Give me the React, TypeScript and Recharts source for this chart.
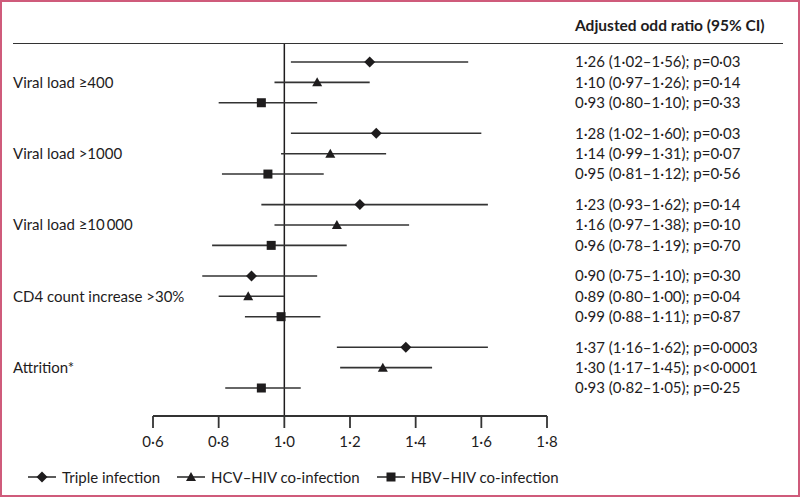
import React from 'react';
import { ScatterChart, Scatter, XAxis, YAxis, ReferenceLine, ErrorBar, Legend } from 'recharts';

const groups = ['Viral load ≥400', 'Viral load >1000', 'Viral load ≥10\u2009000', 'CD4 count increase >30%', 'Attrition*'];

const tripleOR = [1.26, 1.28, 1.23, 0.9, 1.37];
const tripleLow = [1.02, 1.02, 0.93, 0.75, 1.16];
const tripleHigh = [1.56, 1.6, 1.62, 1.1, 1.62];
const tripleP = ['p=0·03', 'p=0·03', 'p=0·14', 'p=0·30', 'p=0·0003'];

const hcvOR = [1.1, 1.14, 1.16, 0.89, 1.3];
const hcvLow = [0.97, 0.99, 0.97, 0.8, 1.17];
const hcvHigh = [1.26, 1.31, 1.38, 1.0, 1.45];
const hcvP = ['p=0·14', 'p=0·07', 'p=0·10', 'p=0·04', 'p<0·0001'];

const hbvOR = [0.93, 0.95, 0.96, 0.99, 0.93];
const hbvLow = [0.8, 0.81, 0.78, 0.88, 0.82];
const hbvHigh = [1.1, 1.12, 1.19, 1.11, 1.05];
const hbvP = ['p=0·33', 'p=0·56', 'p=0·70', 'p=0·87', 'p=0·25'];

const xTicks = [0.6, 0.8, 1.0, 1.2, 1.4, 1.6, 1.8];

const INK = '#1e1c1d';
const LINE = '#333';
const FONT = 'Lato, sans-serif';

const series = [
  { name: 'Triple infection', kind: 'diamond', or: tripleOR, low: tripleLow, high: tripleHigh, p: tripleP },
  { name: 'HCV–HIV co-infection', kind: 'triangle', or: hcvOR, low: hcvLow, high: hcvHigh, p: hcvP },
  { name: 'HBV–HIV co-infection', kind: 'square', or: hbvOR, low: hbvLow, high: hbvHigh, p: hbvP },
];

// 3 rows per group, a half-row gap between groups
const rowPos = (g: number, k: number) => g * 3.5 + k;
const fmt = (v: number, d = 2) => v.toFixed(d).replace('.', '·');

const seriesData = series.map((s, k) =>
  s.or.map((v, g) => ({
    or: v,
    row: rowPos(g, k),
    err: [+(v - s.low[g]).toFixed(3), +(s.high[g] - v).toFixed(3)],
    label: `${fmt(v)} (${fmt(s.low[g])}–${fmt(s.high[g])}); ${s.p[g]}`,
  }))
);

const rowLabels = new Map<number, string>();
seriesData.forEach((d) => d.forEach((r) => rowLabels.set(r.row, r.label)));
const rowTicks = Array.from(rowLabels.keys()).sort((a, b) => a - b);
const groupTicks = groups.map((_, g) => rowPos(g, 1));

const Marker = ({ kind, cx, cy }: { kind: string; cx: number; cy: number }) => {
  if (kind === 'diamond')
    return <polygon points={`${cx},${cy - 5.5} ${cx + 5.5},${cy} ${cx},${cy + 5.5} ${cx - 5.5},${cy}`} fill={INK} />;
  if (kind === 'triangle')
    return <polygon points={`${cx},${cy - 5} ${cx + 5},${cy + 4} ${cx - 5},${cy + 4}`} fill={INK} />;
  return <rect x={cx - 4.5} y={cy - 4.5} width={9} height={9} fill={INK} />;
};

const LegendContent = () => (
  <div style={{ display: 'flex', alignItems: 'center', fontFamily: FONT, fontSize: 15, color: INK }}>
    {series.map((s) => (
      <div key={s.name} style={{ display: 'flex', alignItems: 'center', marginRight: 17 }}>
        <svg width={28} height={12}>
          <line x1={0} x2={28} y1={6} y2={6} stroke={LINE} strokeWidth={1.6} />
          <Marker kind={s.kind} cx={14} cy={6} />
        </svg>
        <span style={{ marginLeft: 6 }}>{s.name}</span>
      </div>
    ))}
  </div>
);

export default function App() {
  return (
    <div style={{ position: 'absolute', top: 0, left: 0, width: 800, height: 497, background: '#fff' }}>
      <ScatterChart width={800} height={497} margin={{ top: 44, right: 0, bottom: 51, left: 0 }}>
        <XAxis
          type="number"
          dataKey="or"
          domain={[0.6, 1.8]}
          ticks={xTicks}
          allowDataOverflow
          tickFormatter={(v: number) => fmt(v, 1)}
          tickSize={12}
          tickMargin={8}
          height={30}
          stroke={LINE}
          strokeWidth={1.8}
          tick={{ fill: INK, fontSize: 15, fontFamily: FONT }}
        />
        <YAxis
          yAxisId="left"
          type="number"
          dataKey="row"
          domain={[-0.883, 17.374]}
          allowDataOverflow
          reversed
          width={153}
          ticks={groupTicks}
          interval={0}
          axisLine={false}
          tickLine={false}
          tick={(p: any) => (
            <text x={13} y={p.y} dy="0.35em" textAnchor="start" fill={INK} fontSize={15} fontFamily={FONT}>
              {groups[groupTicks.indexOf(p.payload.value)]}
            </text>
          )}
        />
        <YAxis
          yAxisId="right"
          orientation="right"
          type="number"
          domain={[-0.883, 17.374]}
          allowDataOverflow
          reversed
          width={253}
          ticks={rowTicks}
          interval={0}
          axisLine={false}
          tickLine={false}
          tick={(p: any) => (
            <text x={575} y={p.y} dy="0.35em" textAnchor="start" fill={INK} fontSize={15} fontFamily={FONT}>
              {rowLabels.get(p.payload.value)}
            </text>
          )}
        />
        <ReferenceLine yAxisId="left" x={1} stroke={INK} strokeWidth={1.5} />
        {series.map((s, k) => (
          <Scatter
            key={s.name}
            name={s.name}
            yAxisId="left"
            data={seriesData[k]}
            dataKey="or"
            isAnimationActive={false}
            shape={(p: any) => <Marker kind={s.kind} cx={p.cx} cy={p.cy} />}
          >
            <ErrorBar dataKey="err" direction="x" width={0} stroke={LINE} strokeWidth={1.6} />
          </Scatter>
        ))}
        <Legend
          layout="horizontal"
          verticalAlign="middle"
          align="center"
          content={LegendContent}
          wrapperStyle={{ top: 468, left: 28, width: 'auto' }}
        />
      </ScatterChart>
      <div
        style={{
          position: 'absolute', left: 575, top: 16, fontFamily: FONT, fontSize: 15.5,
          fontWeight: 700, color: INK, whiteSpace: 'nowrap',
        }}
      >
        Adjusted odd ratio (95% CI)
      </div>
      <div style={{ position: 'absolute', left: 13, top: 43, width: 770, height: 0, borderTop: `1.6px solid ${LINE}` }} />
      <div
        style={{
          position: 'absolute', inset: 0, boxSizing: 'border-box',
          border: '2px solid #cf5b7b', pointerEvents: 'none',
        }}
      />
    </div>
  );
}
